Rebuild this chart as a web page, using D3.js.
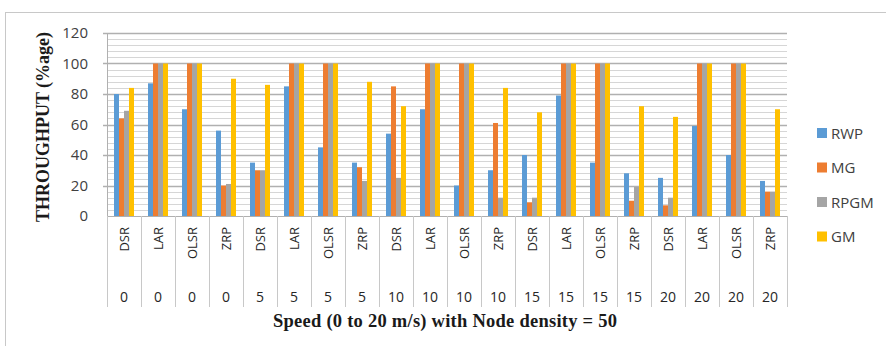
<!DOCTYPE html>
<html>
<head>
<meta charset="utf-8">
<script src="https://cdn.jsdelivr.net/npm/d3@7"></script>
<style>
  html, body { margin: 0; padding: 0; background: #fff; }
  svg { display: block; }
</style>
</head>
<body>
<svg id="chart" width="886" height="346"></svg>
<script>
// Throughput per routing protocol, grouped by speed (node density = 50)
const protocols = ["DSR", "LAR", "OLSR", "ZRP"];
const speeds = ["0", "5", "10", "15", "20"];
const seriesNames = ["RWP", "MG", "RPGM", "GM"];
const seriesColors = ["#5B9BD5", "#ED7D31", "#A5A5A5", "#FFC000"];

// one value per (speed, protocol) category, in category order
const rwp  = [80, 87, 70, 56,  35, 85, 45, 35,  54, 70, 20, 30,  40, 79, 35, 28,  25, 59, 40, 23];
const mg   = [64, 100, 100, 20, 30, 100, 100, 32, 85, 100, 100, 61, 9, 100, 100, 10, 7, 100, 100, 16];
const rpgm = [69, 100, 100, 21, 30, 100, 100, 23, 25, 100, 100, 12, 12, 100, 100, 19, 12, 100, 100, 16];
const gm   = [84, 100, 100, 90, 86, 100, 100, 88, 72, 100, 100, 84, 68, 100, 100, 72, 65, 100, 100, 70];

const yTicks = [0, 20, 40, 60, 80, 100, 120];
const yTitle = "THROUGHPUT (%age)";
const xTitle = "Speed (0 to 20 m/s) with Node density = 50";

const seriesValues = [rwp, mg, rpgm, gm];
const categories = [];
speeds.forEach(s => protocols.forEach(p => categories.push({ key: s + "|" + p, speed: s, protocol: p })));

const svg = d3.select("#chart");
const plot = { left: 107, right: 787, top: 33, bottom: 216 };

// outer chart frame
svg.append("rect")
  .attr("x", 5.5).attr("y", 12.5)
  .attr("width", 920).attr("height", 400)
  .attr("fill", "none").attr("stroke", "#c8c8c8").attr("stroke-width", 1);

const x = d3.scaleBand()
  .domain(categories.map(d => d.key))
  .range([plot.left, plot.right])
  .padding(0);

const xSub = d3.scaleBand()
  .domain(seriesNames)
  .range([7, x.bandwidth() - 7])
  .padding(0);

const y = d3.scaleLinear().domain([0, 120]).range([plot.bottom, plot.top]);

// minor gridlines every 4, major every 20
const minor = d3.range(0, 121, 4).filter(v => v % 20 !== 0);
svg.append("g").selectAll("line").data(minor).join("line")
  .attr("x1", plot.left).attr("x2", plot.right)
  .attr("y1", d => Math.round(y(d)) + 0.5).attr("y2", d => Math.round(y(d)) + 0.5)
  .attr("stroke", "#d6d6d6").attr("stroke-width", 1);

svg.append("g").selectAll("line").data(yTicks.filter(v => v > 0)).join("line")
  .attr("x1", plot.left - 4).attr("x2", plot.right)
  .attr("y1", d => Math.round(y(d)) + 0.5).attr("y2", d => Math.round(y(d)) + 0.5)
  .attr("stroke", "#b0b0b0").attr("stroke-width", 1.4);

// y axis
const yAxis = d3.axisLeft(y).tickValues(yTicks).tickSize(0).tickPadding(19);
const yg = svg.append("g").attr("transform", `translate(${plot.left},0)`).call(yAxis);
yg.select(".domain").attr("stroke", "#b0b0b0");
yg.selectAll("text")
  .attr("font-family", "'Open Sans', sans-serif")
  .attr("font-size", 15)
  .attr("fill", "#404040");

// bars
const barG = svg.append("g");
seriesNames.forEach((name, si) => {
  barG.append("g").selectAll("rect").data(seriesValues[si]).join("rect")
    .attr("x", (d, i) => x(categories[i].key) + xSub(name))
    .attr("width", xSub.bandwidth())
    .attr("y", d => y(d))
    .attr("height", d => y(0) - y(d))
    .attr("fill", seriesColors[si]);
});

// x axis line and multi-level category separators
const xg = svg.append("g");
xg.append("line")
  .attr("x1", plot.left).attr("x2", plot.right)
  .attr("y1", plot.bottom + 0.5).attr("y2", plot.bottom + 0.5)
  .attr("stroke", "#b0b0b0");
const bounds = categories.map(d => x(d.key)).concat([plot.right]);
xg.selectAll("line.sep").data(bounds).join("line")
  .attr("class", "sep")
  .attr("x1", d => Math.round(d) + 0.5).attr("x2", d => Math.round(d) + 0.5)
  .attr("y1", plot.bottom).attr("y2", 307)
  .attr("stroke", "#c8c8c8");

// protocol labels (rotated)
xg.selectAll("text.proto").data(categories).join("text")
  .attr("class", "proto")
  .attr("transform", d => `translate(${x(d.key) + x.bandwidth() / 2 + 4.5},227) rotate(-90)`)
  .attr("text-anchor", "end")
  .attr("font-family", "'Open Sans', sans-serif")
  .attr("font-size", 13)
  .attr("fill", "#262626")
  .text(d => d.protocol);

// speed labels
xg.selectAll("text.speed").data(categories).join("text")
  .attr("class", "speed")
  .attr("x", d => x(d.key) + x.bandwidth() / 2)
  .attr("y", 302)
  .attr("text-anchor", "middle")
  .attr("font-family", "'Open Sans', sans-serif")
  .attr("font-size", 14)
  .attr("fill", "#262626")
  .text(d => d.speed);

// axis titles
svg.append("text")
  .attr("x", 445)
  .attr("y", 327)
  .attr("text-anchor", "middle")
  .attr("font-family", "'Liberation Serif', 'Times New Roman', serif")
  .attr("font-weight", "bold")
  .attr("font-size", 18.5)
  .attr("textLength", 344)
  .attr("lengthAdjust", "spacing")
  .attr("fill", "#1a1a1a")
  .text(xTitle);

svg.append("text")
  .attr("transform", "translate(49,127) rotate(-90)")
  .attr("text-anchor", "middle")
  .attr("font-family", "'Liberation Serif', 'Times New Roman', serif")
  .attr("font-weight", "bold")
  .attr("font-size", 18)
  .attr("fill", "#1a1a1a")
  .text(yTitle);

// legend
const legend = svg.append("g").attr("transform", "translate(817,133)");
const li = legend.selectAll("g").data(seriesNames).join("g")
  .attr("transform", (d, i) => `translate(0,${i * 34.5})`);
li.append("rect")
  .attr("x", 0).attr("y", -5).attr("width", 10).attr("height", 10)
  .attr("fill", (d, i) => seriesColors[i]);
li.append("text")
  .attr("x", 14).attr("y", 5.5)
  .attr("font-family", "'Open Sans', sans-serif")
  .attr("font-size", 15)
  .attr("fill", "#404040")
  .text(d => d);
</script>
</body>
</html>
